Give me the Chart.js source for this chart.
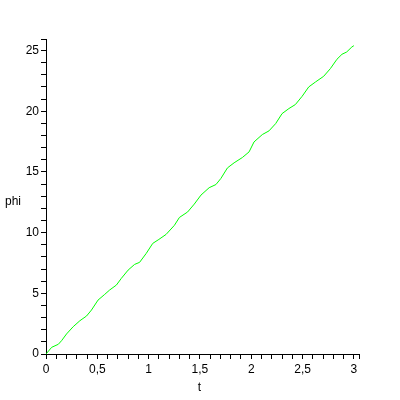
<!DOCTYPE html>
<html>
<head>
<meta charset="utf-8">
<script src="https://cdn.jsdelivr.net/npm/chart.js@4/dist/chart.umd.min.js"></script>
<style>
html,body{margin:0;padding:0;background:#fff;}
canvas{display:block;}
</style>
</head>
<body>
<canvas id="c" width="400" height="400"></canvas>
<script>
const tValues = [0, 0.055, 0.12, 0.152, 0.20, 0.265, 0.33, 0.395, 0.443, 0.507, 0.572, 0.62, 0.686, 0.734, 0.80, 0.863, 0.912, 0.977, 1.04, 1.10, 1.17, 1.251, 1.30, 1.38, 1.445, 1.51, 1.59, 1.656, 1.704, 1.768, 1.833, 1.914, 1.979, 2.027, 2.108, 2.173, 2.238, 2.30, 2.367, 2.43, 2.496, 2.56, 2.626, 2.706, 2.771, 2.835, 2.884, 2.93, 2.98, 3.0];
const phiValues = [0, 0.55, 0.80, 1.1, 1.65, 2.25, 2.74, 3.13, 3.62, 4.44, 4.91, 5.27, 5.68, 6.23, 6.91, 7.38, 7.55, 8.29, 9.11, 9.44, 9.85, 10.6, 11.25, 11.7, 12.35, 13.09, 13.7, 13.96, 14.46, 15.33, 15.75, 16.19, 16.65, 17.47, 18.08, 18.38, 18.98, 19.8, 20.22, 20.55, 21.23, 22.0, 22.41, 22.88, 23.51, 24.28, 24.69, 24.88, 25.29, 25.4];
const xTickLabels = ['0', '0,5', '1', '1,5', '2', '2,5', '3'];
const yTickLabels = ['0', '5', '10', '15', '20', '25'];
const xLabel = 't';
const yLabel = 'phi';
const xMin = 0, xMax = 3.05, xStep = 0.1;
const yMin = 0, yMax = 25.95, yStep = 1;

const points = tValues.map((t, i) => ({x: t, y: phiValues[i]}));

function makeTicks(min, max, step) {
  const arr = [];
  const n = Math.floor((max - min) / step + 1e-9);
  for (let i = 0; i <= n; i++) arr.push({value: +(min + i * step).toFixed(6)});
  if (Math.abs(arr[arr.length - 1].value - max) > 1e-6) arr.push({value: max});
  return arr;
}

const FONT = {family: 'Liberation Sans, Arial, sans-serif', size: 12};

const titlePlugin = {
  id: 'titles',
  afterDraw(chart) {
    const ctx = chart.ctx;
    ctx.save();
    ctx.fillStyle = '#000';
    ctx.font = '12px "Liberation Sans", Arial, sans-serif';
    ctx.textBaseline = 'middle';
    ctx.textAlign = 'center';
    const a = chart.chartArea;
    ctx.fillText(xLabel, (a.left + a.right) / 2 - 3, 388);
    ctx.textAlign = 'left';
    ctx.fillText(yLabel, 5, 202);
    ctx.restore();
  }
};

new Chart(document.getElementById('c'), {
  type: 'line',
  data: {
    datasets: [{
      data: points,
      borderColor: '#00ff00',
      borderWidth: 1,
      pointRadius: 0,
      tension: 0,
      fill: false
    }]
  },
  options: {
    responsive: false,
    devicePixelRatio: 1,
    animation: false,
    layout: {padding: {left: 0, right: 41, top: 39, bottom: 0}},
    plugins: {legend: {display: false}, tooltip: {enabled: false}},
    scales: {
      x: {
        type: 'linear',
        min: xMin, max: xMax,
        afterBuildTicks(scale) { scale.ticks = makeTicks(xMin, xMax, xStep); },
        afterFit(scale) { scale.height = 46; },
        grid: {drawOnChartArea: false, drawTicks: true, tickLength: 5, color: '#000', lineWidth: 1},
        border: {color: '#000', width: 1},
        ticks: {
          autoSkip: false, maxRotation: 0, minRotation: 0, padding: 3,
          color: '#000', font: FONT,
          callback(value) {
            const k = Math.round(value * 2);
            if (Math.abs(value * 2 - k) < 1e-6 && k >= 0 && k < xTickLabels.length) return xTickLabels[k];
            return '';
          }
        }
      },
      y: {
        type: 'linear',
        min: yMin, max: yMax,
        afterBuildTicks(scale) { scale.ticks = makeTicks(yMin, yMax, yStep); },
        afterFit(scale) { scale.width = 46; },
        grid: {drawOnChartArea: false, drawTicks: true, tickLength: 5, color: '#000', lineWidth: 1},
        border: {color: '#000', width: 1},
        ticks: {
          autoSkip: false, padding: 2,
          color: '#000', font: FONT,
          callback(value) {
            const k = Math.round(value / 5);
            if (Math.abs(value / 5 - k) < 1e-6 && k >= 0 && k < yTickLabels.length) return yTickLabels[k];
            return '';
          }
        }
      }
    }
  },
  plugins: [titlePlugin]
});
</script>
</body>
</html>
